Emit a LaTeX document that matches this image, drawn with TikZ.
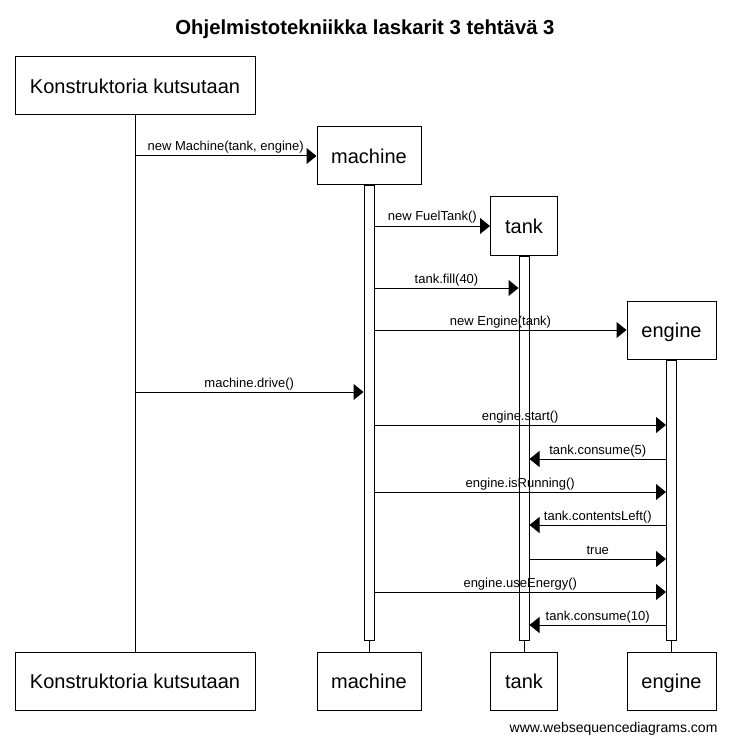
\documentclass[tikz,border=0pt]{standalone}
\usepackage{fontspec}
\setmainfont{Liberation Sans}
\usetikzlibrary{arrows.meta}
\tikzset{
	actorbox/.style={draw, line width=1pt, fill=white, minimum height=58pt, inner sep=0pt, text height=18pt, text depth=3pt, font=\fontsize{20}{24}\selectfont},
	actbar/.style={draw, line width=1pt, fill=white, minimum width=10pt, inner sep=0pt, anchor=north},
	lifeline/.style={line width=1pt},
	msg/.style={line width=1pt, -{Triangle[length=10pt,width=16pt]}},
	msglabel/.style={midway, anchor=base, inner sep=0pt, yshift=5pt, font=\fontsize{13}{15}\selectfont}
}

\begin{document}
\begin{tikzpicture}[x=1pt, y=-1pt]
			%%%%% START %%%%%
			\useasboundingbox (0, 0) rectangle (730, 743);
			
			\node[font=\bfseries\fontsize{20.3}{24}\selectfont, anchor=base] (title) at (365, 35) {Ohjelmistotekniikka laskarit 3 tehtävä 3};
			
			% participants, top and bottom
			\node[actorbox, minimum width=240pt] (kontop) at (135, 86) {Konstruktoria kutsutaan};
			\node[actorbox, minimum width=240pt] (konbot) at (135, 681) {Konstruktoria kutsutaan};
			\node[actorbox, minimum width=104pt] (machtop) at (369, 156) {machine};
			\node[actorbox, minimum width=104pt] (machbot) at (369, 681) {machine};
			\node[actorbox, minimum width=67pt] (tanktop) at (524, 226) {tank};
			\node[actorbox, minimum width=67pt] (tankbot) at (524, 681) {tank};
			\node[actorbox, minimum width=89pt] (engtop) at (671.5, 330) {engine};
			\node[actorbox, minimum width=89pt] (engbot) at (671.5, 681) {engine};
			
			% lifelines
			\draw[lifeline] (kontop.south) -- (konbot.north);
			\draw[lifeline] (machtop.south) -- (machbot.north);
			\draw[lifeline] (tanktop.south) -- (tankbot.north);
			\draw[lifeline] (engtop.south) -- (engbot.north);
			
			% activation bars
			\node[actbar, minimum height=454pt] (machbar) at (machtop.south) {};
			\node[actbar, minimum height=384pt] (tankbar) at (tanktop.south) {};
			\node[actbar, minimum height=280pt] (engbar) at (engtop.south) {};
			
			% messages
			\draw[msg] (kontop.south |- 0,156) -- (machtop.west) node[msglabel] {new Machine(tank, engine)};
			\draw[msg] (machbar.east |- 0,226) -- (tanktop.west) node[msglabel] {new FuelTank()};
			\draw[msg] (machbar.east |- 0,288) -- (tankbar.west |- 0,288) node[msglabel] {tank.fill(40)};
			\draw[msg] (machbar.east |- 0,330) -- (engtop.west) node[msglabel] {new Engine(tank)};
			\draw[msg] (kontop.south |- 0,392) -- (machbar.west |- 0,392) node[msglabel] {machine.drive()};
			\draw[msg] (machbar.east |- 0,425) -- (engbar.west |- 0,425) node[msglabel] {engine.start()};
			\draw[msg] (engbar.west |- 0,459) -- (tankbar.east |- 0,459) node[msglabel] {tank.consume(5)};
			\draw[msg] (machbar.east |- 0,492) -- (engbar.west |- 0,492) node[msglabel] {engine.isRunning()};
			\draw[msg] (engbar.west |- 0,525) -- (tankbar.east |- 0,525) node[msglabel] {tank.contentsLeft()};
			\draw[msg] (tankbar.east |- 0,559) -- (engbar.west |- 0,559) node[msglabel] {true};
			\draw[msg] (machbar.east |- 0,592) -- (engbar.west |- 0,592) node[msglabel] {engine.useEnergy()};
			\draw[msg] (engbar.west |- 0,625) -- (tankbar.east |- 0,625) node[msglabel] {tank.consume(10)};
			
			\node[font=\fontsize{14}{16}\selectfont, anchor=base east] (credit) at (721, 732) {www.websequencediagrams.com};
			
			%%%%% END %%%%%
		\end{tikzpicture}
\end{document}
